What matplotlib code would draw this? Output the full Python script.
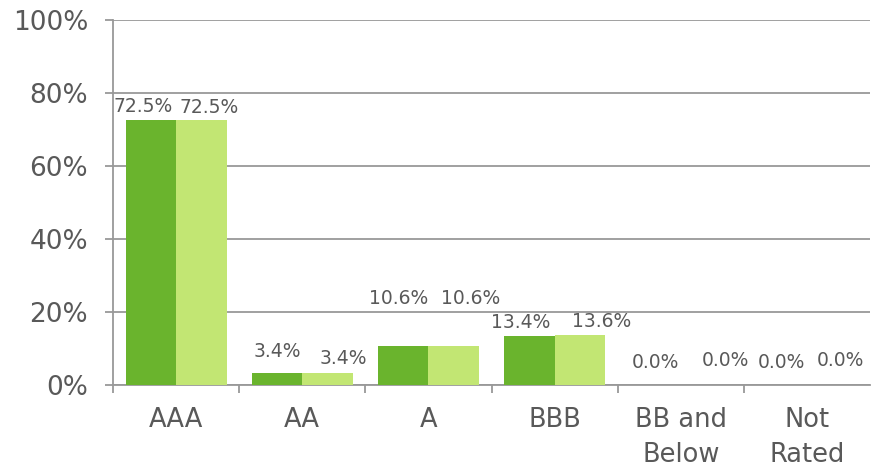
import numpy as np
import matplotlib.pyplot as plt

# rating buckets and the two portfolio series (percent)
ratings = ['AAA', 'AA', 'A', 'BBB', 'BB and\nBelow', 'Not\nRated']
series_a = [72.5, 3.4, 10.6, 13.4, 0.0, 0.0]
series_b = [72.5, 3.4, 10.6, 13.6, 0.0, 0.0]

dark_green = '#6ab42d'
light_green = '#c2e673'
text_grey = '#595959'
line_grey = '#999999'

# small nudges (pixels) for the value labels
nudge_a = [(-8, 14), (0, 21), (-5, 48), (-9, 14), (0, 23), (0, 23)]
nudge_b = [(8, 13), (16, 14), (17, 48), (22, 14), (19, 25), (8, 25)]

fig = plt.figure(figsize=(8.72, 4.68), dpi=100)
ax = fig.add_axes([113 / 872, 83 / 468, 757 / 872, 365 / 468])

x = np.arange(len(ratings))
w = 0.4
bars_a = ax.bar(x - w / 2, series_a, w, color=dark_green, zorder=3)
bars_b = ax.bar(x + w / 2, series_b, w, color=light_green, zorder=3)

for bars, vals, nudges in [(bars_a, series_a, nudge_a), (bars_b, series_b, nudge_b)]:
    for b, v, (dx, dy) in zip(bars, vals, nudges):
        ax.annotate(f'{v:.1f}%', (b.get_x() + b.get_width() / 2, v),
                    xytext=(dx, dy), textcoords='offset pixels',
                    ha='center', va='center', fontsize=13.5, color=text_grey)

ax.set_xlim(-0.5, len(ratings) - 0.5)
ax.set_ylim(0, 100)
ax.set_yticks(range(0, 101, 20))
ax.set_yticklabels([f'{t}%' for t in range(0, 101, 20)])
ax.yaxis.grid(True, color=line_grey, linewidth=1.3, zorder=0)

ax.set_xticks(x)
ax.set_xticklabels(ratings, linespacing=1.45)
ax.set_xticks(np.arange(len(ratings)) - 0.5, minor=True)
ax.tick_params(axis='x', which='major', length=0, pad=16, labelsize=18.5, labelcolor=text_grey)
ax.tick_params(axis='x', which='minor', length=6, width=1.3, color=line_grey, direction='out')
ax.tick_params(axis='y', length=6, width=1.3, color=line_grey, pad=12, labelsize=19, labelcolor=text_grey)

for s in ['top', 'right']:
    ax.spines[s].set_visible(False)
for s in ['left', 'bottom']:
    ax.spines[s].set_color(line_grey)
    ax.spines[s].set_linewidth(1.3)

fig.savefig('out.png', dpi=100)
